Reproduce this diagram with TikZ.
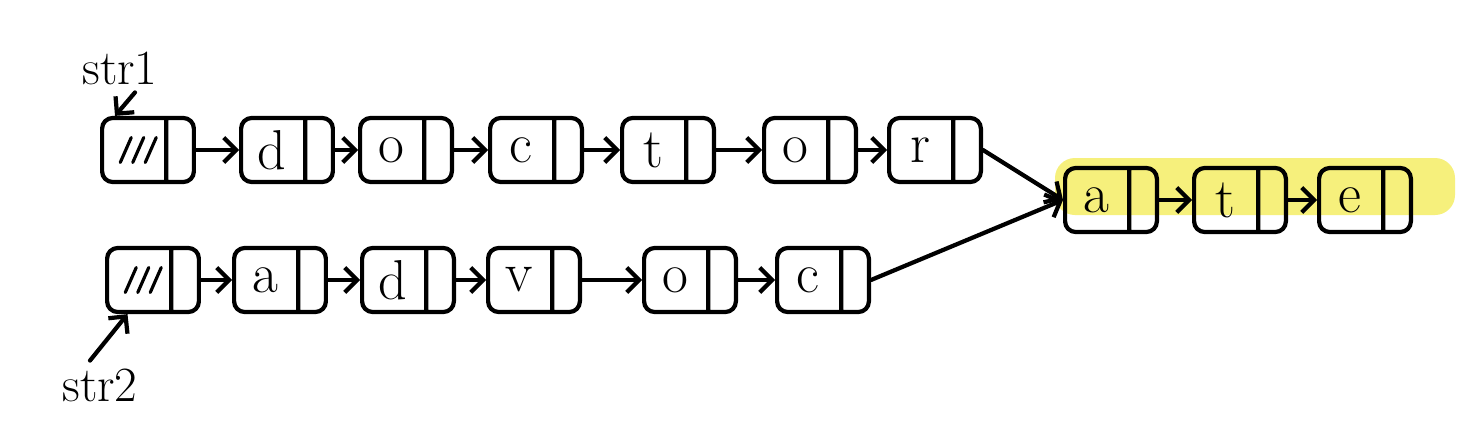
\documentclass[tikz,border=0pt]{standalone}
\usepackage{tikz}
\usetikzlibrary{shapes.multipart,arrows.meta}
\definecolor{marker}{HTML}{F6F07C}

\begin{document}
\begin{tikzpicture}[x=0.02cm, y=-0.02cm, line width=2.4pt, line cap=round, line join=round,
    >={Straight Barb[length=7pt,width=14pt]}]
  \useasboundingbox[fill=white] (0,0) rectangle (1460,443);
  % highlight under the common tail
  \fill[marker, rounded corners=0.4cm] (1055,158) rectangle (1455,215);
  \begin{scope}[every node/.style={draw, rounded corners=6pt, rectangle split, rectangle split horizontal,
      rectangle split parts=2, rectangle split empty part width=0.36cm, minimum height=1.28cm,
      inner xsep=0pt, font=\fontsize{32}{36}\selectfont}]
    % str1
    \node (p0) at (148,150) {\makebox[1.24cm]{}\nodepart{two}};
    \node (p1) at (287,150) {\makebox[1.24cm]{d}\nodepart{two}};
    \node (p2) at (406,150) {\makebox[1.24cm]{o}\nodepart{two}};
    \node (p3) at (536,150) {\makebox[1.24cm]{c}\nodepart{two}};
    \node (p4) at (668,150) {\makebox[1.24cm]{t}\nodepart{two}};
    \node (p5) at (810,150) {\makebox[1.24cm]{o}\nodepart{two}};
    \node (p6) at (935,150) {\makebox[1.24cm]{r}\nodepart{two}};
    % str2
    \node (q0) at (153,280) {\makebox[1.24cm]{}\nodepart{two}};
    \node (q1) at (280,280) {\makebox[1.24cm]{a}\nodepart{two}};
    \node (q2) at (408,280) {\makebox[1.24cm]{d}\nodepart{two}};
    \node (q3) at (534,280) {\makebox[1.24cm]{v}\nodepart{two}};
    \node (q4) at (690,280) {\makebox[1.24cm]{o}\nodepart{two}};
    \node (q5) at (823,280) {\makebox[1.24cm]{c}\nodepart{two}};
    % common tail
    \node (m1) at (1111,200) {\makebox[1.24cm]{a}\nodepart{two}};
    \node (m2) at (1240,200) {\makebox[1.24cm]{t}\nodepart{two}};
    \node (m3) at (1365,200) {\makebox[1.24cm]{e}\nodepart{two}};
  \end{scope}
  % dummy heads
  \foreach \h in {p0,q0}
    \foreach \k in {-0.555,-0.305,-0.055}
      \draw[line width=1.8pt] ([shift={(\k cm,-0.25cm)}]\h.center) -- ++(0.22cm,0.5cm);
  \node[font=\fontsize{28}{32}\selectfont] (s1) at (120,68) {str1};
  \node[font=\fontsize{28}{32}\selectfont] (s2) at (100,385) {str2};
  \draw[->] ([xshift=0.3cm]s1.south) -- ([xshift=0.3cm]p0.north west);
  \draw[->] ([xshift=-0.2cm]s2.north) -- ([xshift=0.45cm]q0.south west);
  \draw[->] (p0) -- (p1);
  \draw[->] (p1) -- (p2);
  \draw[->] (p2) -- (p3);
  \draw[->] (p3) -- (p4);
  \draw[->] (p4) -- (p5);
  \draw[->] (p5) -- (p6);
  \draw[->] (q0) -- (q1);
  \draw[->] (q1) -- (q2);
  \draw[->] (q2) -- (q3);
  \draw[->] (q3) -- (q4);
  \draw[->] (q4) -- (q5);
  \draw[->] (p6.east) -- (m1.west);
  \draw[->] (q5.east) -- (m1.west);
  \draw[->] (m1) -- (m2);
  \draw[->] (m2) -- (m3);
\end{tikzpicture}
\end{document}
